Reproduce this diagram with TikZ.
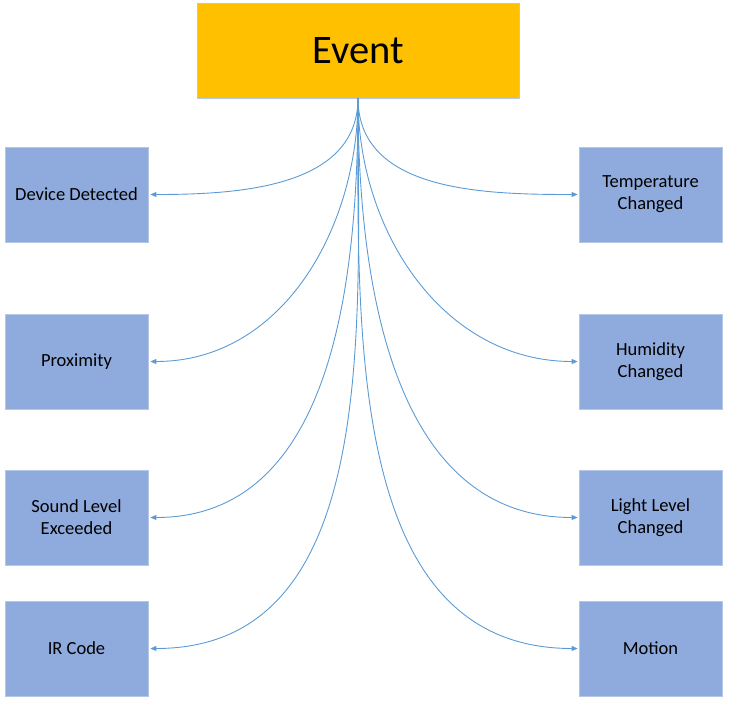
\documentclass[tikz,border=0pt]{standalone}
\usepackage{fontspec}
\setmainfont{Carlito}
\usetikzlibrary{arrows.meta}
\definecolor{evfill}{HTML}{FFC000}
\definecolor{boxfill}{HTML}{8FAADC}
\definecolor{boxline}{HTML}{B4C7E7}
\definecolor{linkc}{HTML}{5B9BD5}
\begin{document}
\begin{tikzpicture}[x=1pt,y=-1pt,
  catbox/.style={draw=boxline,line width=0.8pt,fill=boxfill,minimum width=143pt,minimum height=95pt,inner sep=0pt,align=center,font=\fontsize{18.5}{22}\selectfont},
  evbox/.style={draw=boxline,line width=0.8pt,fill=evfill,minimum width=322pt,minimum height=95pt,inner sep=0pt,font=\fontsize{40.5}{44}\selectfont},
  link/.style={draw=linkc,line width=0.9pt,-{Triangle[length=6pt,width=5pt]}}]
\useasboundingbox (0,0) rectangle (729,705);
\node[evbox] (ev) at (358,50.5) {Event};
\coordinate (src) at (358,98);
\node[catbox] (l1) at (76.5,194.5) {Device Detected};
\node[catbox] (l2) at (76.5,361.5) {Proximity};
\node[catbox] (l3) at (76.5,517.5) {Sound Level\\Exceeded};
\node[catbox] (l4) at (76.5,648.5) {IR Code};
\node[catbox] (r1) at (650.5,194.5) {Temperature\\Changed};
\node[catbox] (r2) at (650.5,361.5) {Humidity\\Changed};
\node[catbox] (r3) at (650.5,517.5) {Light Level\\Changed};
\node[catbox] (r4) at (650.5,648.5) {Motion};
\foreach \n in {l1,l2,l3,l4}{
  \path[link] (src) to[out=270,in=0,looseness=1] ([xshift=2pt]\n.east);
}
\foreach \n in {r1,r2,r3,r4}{
  \path[link] (src) to[out=270,in=180,looseness=1] ([xshift=-1pt]\n.west);
}
\end{tikzpicture}
\end{document}
